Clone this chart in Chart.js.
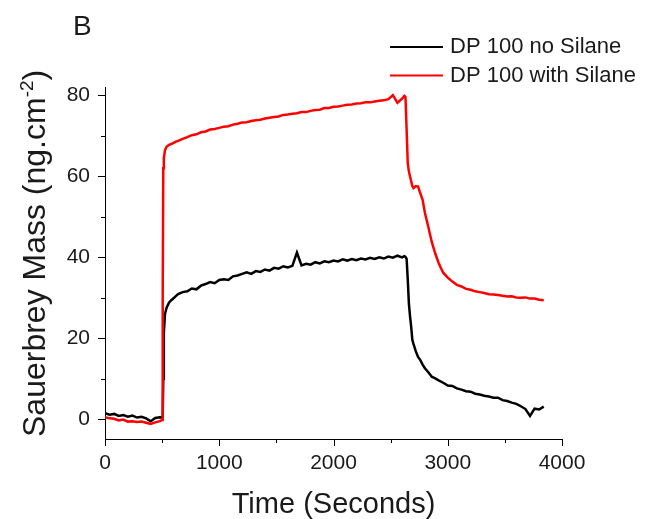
<!DOCTYPE html>
<html>
<head>
<meta charset="utf-8">
<script src="https://cdn.jsdelivr.net/npm/chart.js@4"></script>
<style>
 html,body{margin:0;padding:0;background:#fff;}
 canvas{display:block;}
</style>
</head>
<body>
<canvas id="chart" width="646" height="519"></canvas>
<script>
/* ---------- DATA ---------- */
let times=[0,40,80,120,160,200,240,280,320,360,400,440,480,500,
 505,510,515,525,540,560,580,600,620,
 640,680,720,760,800,840,880,920,960,1000,
 1040,1080,1120,1160,1200,1240,1280,1320,1360,1400,
 1440,1480,1520,1560,1600,1640,1680,1720,1760,1800,
 1840,1880,1920,1960,2000,2040,2080,2120,2160,2200,
 2240,2280,2320,2360,2400,2440,2480,2520,2560,2600,
 2620,2630,2640,2650,2660,2670,2680,2690,2700,2720,
 2740,2760,2780,2800,2830,2860,2890,2920,2960,3000,
 3040,3080,3120,3160,3200,3240,3280,3320,3360,3400,
 3440,3480,3520,3560,3600,3640,3680,3720,3760,3800,3840];

let noSilane=[1.5,1.1,1.3,0.8,1.0,0.6,0.9,0.4,0.6,0.2,-0.5,0.3,0.5,0.4,
 0.6,10.0,21.3,26.0,27.6,28.8,29.4,29.9,30.4,
 30.9,31.4,31.6,32.3,32.1,33.0,33.4,33.9,33.6,34.4,
 34.6,34.4,35.3,35.5,35.9,36.3,35.9,36.6,36.4,37.0,
 36.7,37.4,37.2,37.8,37.5,37.9,41.2,38.0,38.4,38.2,
 38.8,38.5,39.0,38.8,39.2,39.0,39.5,39.2,39.6,39.3,
 39.7,39.5,39.9,39.6,40.0,39.7,40.2,39.9,40.4,40.0,
 40.3,40.1,39.6,34.5,28.5,25.4,22.8,19.6,18.6,16.8,
 15.4,14.6,13.5,12.6,11.6,10.5,10.1,9.6,9.0,8.3,
 8.2,7.6,7.3,6.9,6.8,6.3,6.1,5.8,5.6,5.3,
 5.3,4.7,4.5,4.1,3.8,3.2,2.5,0.8,2.6,2.4,3.1];

let withSilane=[0.5,0.2,0.1,-0.3,-0.1,-0.6,-0.5,-0.7,-0.6,-0.9,-1.2,-0.8,-0.5,-0.2,
 30.0,62.0,64.5,66.5,67.4,67.8,68.0,68.3,68.6,
 68.8,69.3,69.7,70.2,70.4,70.9,71.1,71.6,71.7,72.0,
 72.3,72.4,72.8,73.0,73.3,73.4,73.7,73.9,74.0,74.3,
 74.5,74.7,74.8,75.2,75.3,75.5,75.6,75.9,75.9,76.2,
 76.4,76.5,76.9,76.9,77.2,77.3,77.5,77.7,77.8,78.0,
 78.1,78.3,78.3,78.5,78.7,78.8,79.1,80.1,78.2,79.2,
 79.9,79.6,71.5,63.3,61.2,60.0,58.8,57.6,57.1,57.6,
 57.5,55.8,54.2,51.0,47.5,43.8,41.0,38.6,36.2,35.0,
 34.0,33.2,32.8,32.2,32.0,31.6,31.4,31.2,30.9,30.8,
 30.7,30.5,30.3,30.4,30.1,30.0,30.1,29.8,29.8,29.5,29.4];

let xTicks=[0,1000,2000,3000,4000];
let xMinor=[500,1500,2500,3500];
let yTicks=[0,20,40,60,80];
let yMinor=[10,30,50,70];
let seriesNames=["DP 100 no Silane","DP 100 with Silane"];
let seriesColors=["#000000","#ff0000"];

const FONT="'Liberation Sans', Arial, sans-serif";

function pts(vals){ return times.map((t,i)=>({x:t,y:vals[i]})); }

/* ---------- TICK MARKS, LEGEND, LABELS ---------- */
const extras={
 id:"extras",
 afterDraw(c){
  let ctx=c.ctx, xs=c.scales.x, ys=c.scales.y, a=c.chartArea;
  ctx.save();
  ctx.strokeStyle="#000"; ctx.lineWidth=1;
  ctx.beginPath();
  let xt=(v,len)=>{let p=Math.round(xs.getPixelForValue(v))+0.5; ctx.moveTo(p,a.bottom); ctx.lineTo(p,a.bottom+len);};
  let yt=(v,len)=>{let p=Math.round(ys.getPixelForValue(v))+0.5; ctx.moveTo(a.left,p); ctx.lineTo(a.left-len,p);};
  xTicks.forEach(v=>xt(v,7)); xMinor.forEach(v=>xt(v,4));
  yTicks.forEach(v=>yt(v,7)); yMinor.forEach(v=>yt(v,4));
  ctx.stroke();

  // legend
  ctx.font="22px "+FONT; ctx.textBaseline="middle"; ctx.textAlign="left";
  seriesNames.forEach((n,i)=>{
   let y=47+i*28.5;
   ctx.strokeStyle=seriesColors[i]; ctx.lineWidth=2;
   ctx.beginPath(); ctx.moveTo(390,y); ctx.lineTo(443,y); ctx.stroke();
   ctx.fillStyle="#1a1a1a"; ctx.fillText(n,450,y);
  });

  // panel letter
  ctx.font="28px "+FONT; ctx.textBaseline="alphabetic"; ctx.fillStyle="#1a1a1a";
  ctx.fillText("B",73,35);

  // y title with superscript
  ctx.translate(45,437); ctx.rotate(-Math.PI/2);
  ctx.font="32px "+FONT;
  let main="Sauerbrey Mass (ng.cm";
  ctx.fillText(main,0,0);
  let w=ctx.measureText(main).width;
  ctx.font="19px "+FONT;
  ctx.fillText("-2",w,-12);
  let w2=ctx.measureText("-2").width;
  ctx.font="32px "+FONT;
  ctx.fillText(")",w+w2,0);
  ctx.restore();
 }
};

/* ---------- CHART ---------- */
new Chart(document.getElementById("chart"),{
 type:"line",
 data:{datasets:[
  {label:seriesNames[0],data:pts(noSilane),borderColor:seriesColors[0],borderWidth:2.5,pointRadius:0,order:1},
  {label:seriesNames[1],data:pts(withSilane),borderColor:seriesColors[1],borderWidth:2.5,pointRadius:0,order:0}
 ]},
 options:{
  responsive:false,animation:false,devicePixelRatio:1,
  layout:{padding:{top:87,right:84,bottom:0,left:0}},
  plugins:{legend:{display:false},tooltip:{enabled:false}},
  scales:{
   x:{type:"linear",min:0,max:4000,
    afterBuildTicks:s=>{s.ticks=xTicks.map(v=>({value:v}));},
    afterFit:s=>{s.height=80;},
    grid:{display:false,drawTicks:true,tickLength:7},
    border:{display:true,color:"#000",width:1},
    ticks:{padding:5,color:"#1a1a1a",font:{size:21,family:FONT},maxRotation:0,autoSkip:false,callback:v=>String(v)},
    title:{display:true,text:"Time (Seconds)",color:"#1a1a1a",font:{size:29,family:FONT,lineHeight:1},padding:{top:0,bottom:0}}
   },
   y:{type:"linear",min:-4.9,max:82.1,
    afterBuildTicks:s=>{s.ticks=yTicks.map(v=>({value:v}));},
    afterFit:s=>{s.width=105;},
    grid:{display:false,drawTicks:true,tickLength:7},
    border:{display:true,color:"#000",width:1},
    ticks:{padding:8,color:"#1a1a1a",font:{size:21,family:FONT},autoSkip:false,callback:v=>String(v)}
   }
  }
 },
 plugins:[extras]
});
</script>
</body>
</html>
